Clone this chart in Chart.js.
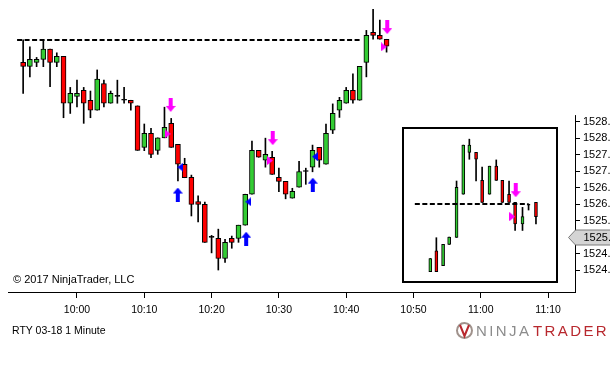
<!DOCTYPE html>
<html>
<head>
<meta charset="utf-8">
<script src="https://cdn.jsdelivr.net/npm/chart.js@4.4.1/dist/chart.umd.min.js"></script>
<style>
  html, body { margin: 0; padding: 0; background: #fff; }
  #wrap { position: relative; width: 610px; height: 367px; overflow: hidden; }
  #chart { position: absolute; left: 0; top: 0; }
  .txt { position: absolute; font-family: "Liberation Sans", Arial, sans-serif; color: #000; white-space: nowrap; }
  #copy { left: 13px; top: 273px; font-size: 11px; line-height: 13px; }
  #instr { left: 12px; top: 324px; font-family: "Liberation Sans Narrow", "Liberation Sans", Arial, sans-serif; font-size: 10.5px; line-height: 12px; }
  .logo { position: absolute; top: 322px; font-family: "Liberation Sans", Arial, sans-serif; font-size: 15px; line-height: 17px; letter-spacing: 2.4px; white-space: nowrap; }
  #ninja { left: 476px; color: #8c8c8c; }
  #trader { left: 533px; color: #b8282e; }
  #icon { position: absolute; left: 455px; top: 321px; }
</style>
</head>
<body>
<div id="wrap">
  <canvas id="chart" width="610" height="367"></canvas>
  <div class="txt" id="copy">© 2017 NinjaTrader, LLC</div>
  <div class="txt" id="instr">RTY 03-18 1 Minute</div>
  <svg id="icon" width="19" height="19" viewBox="0 0 19 19">
    <circle cx="9.5" cy="9.5" r="7.5" fill="none" stroke="#a0928c" stroke-width="2"/>
    <path d="M5 4 L9.5 15 L14 4" fill="none" stroke="#b8282e" stroke-width="2"/>
  </svg>
  <div class="logo" id="ninja">NINJA</div>
  <div class="logo" id="trader">TRADER</div>
</div>
<script>
// main session, 1 minute bars
const times = [
  "9:52", "9:53", "9:54", "9:55", "9:56", "9:57", "9:58", "9:59",
  "10:00", "10:01", "10:02", "10:03", "10:04", "10:05", "10:06", "10:07", "10:08", "10:09",
  "10:10", "10:11", "10:12", "10:13", "10:14", "10:15", "10:16", "10:17", "10:18", "10:19",
  "10:20", "10:21", "10:22", "10:23", "10:24", "10:25", "10:26", "10:27", "10:28", "10:29",
  "10:30", "10:31", "10:32", "10:33", "10:34", "10:35", "10:36", "10:37", "10:38", "10:39",
  "10:40", "10:41", "10:42", "10:43", "10:44", "10:45", "10:46"
];
const opens = [
  1530.30, 1530.18, 1530.30, 1530.39, 1530.70, 1530.30, 1530.48, 1529.06, 1529.27, 1529.45,
  1529.15, 1528.85, 1529.66, 1529.06, 1529.27, 1529.15, 1529.15, 1528.98, 1527.72, 1528.15,
  1527.63, 1528.01, 1528.45, 1527.81, 1527.21, 1526.81, 1526.08, 1525.99, 1524.99, 1524.96,
  1524.35, 1524.96, 1524.96, 1525.36, 1526.30, 1527.63, 1527.33, 1527.42, 1526.81, 1526.69,
  1526.18, 1526.51, 1526.99, 1527.12, 1527.72, 1527.21, 1528.24, 1528.85, 1529.06, 1529.45,
  1529.15, 1530.30, 1531.21, 1531.12, 1531.00
];
const highs = [
  1530.98, 1530.77, 1530.45, 1530.98, 1530.70, 1530.59, 1530.48, 1529.54, 1529.76, 1529.54,
  1529.43, 1530.07, 1529.76, 1529.43, 1529.76, 1529.54, 1529.15, 1528.98, 1528.43, 1528.30,
  1528.01, 1528.94, 1528.60, 1527.81, 1527.39, 1526.88, 1526.25, 1526.06, 1525.05, 1525.24,
  1524.93, 1525.03, 1525.36, 1526.30, 1527.91, 1527.63, 1528.00, 1527.60, 1527.09, 1526.69,
  1526.48, 1527.30, 1527.09, 1527.79, 1527.72, 1528.43, 1529.04, 1529.24, 1529.54, 1529.95,
  1530.18, 1531.27, 1531.91, 1531.58, 1531.00
];
const lows = [
  1529.36, 1529.86, 1530.17, 1530.17, 1529.56, 1530.17, 1528.62, 1528.75, 1528.95, 1528.45,
  1528.62, 1528.85, 1528.95, 1529.06, 1529.06, 1529.06, 1528.85, 1527.63, 1527.62, 1527.41,
  1527.51, 1528.01, 1527.72, 1526.70, 1526.80, 1525.64, 1525.46, 1524.84, 1524.52, 1524.00,
  1524.23, 1524.66, 1524.84, 1525.36, 1526.30, 1527.42, 1527.12, 1526.90, 1526.38, 1526.16,
  1526.18, 1526.51, 1526.60, 1526.98, 1527.12, 1527.21, 1528.14, 1528.63, 1529.06, 1529.06,
  1529.15, 1529.86, 1531.00, 1531.00, 1530.61
];
const closes = [
  1530.18, 1530.39, 1530.39, 1530.70, 1530.30, 1530.48, 1529.06, 1529.36, 1529.36, 1529.06,
  1528.85, 1529.79, 1529.06, 1529.36, 1529.27, 1529.15, 1529.06, 1527.63, 1528.15, 1527.51,
  1528.01, 1528.33, 1527.72, 1527.21, 1526.80, 1525.99, 1525.99, 1524.84, 1524.99, 1524.35,
  1524.84, 1524.84, 1525.36, 1526.30, 1527.63, 1527.42, 1527.51, 1526.90, 1526.69, 1526.30,
  1526.39, 1526.99, 1526.99, 1527.63, 1527.33, 1528.15, 1528.75, 1529.15, 1529.45, 1529.15,
  1530.18, 1531.12, 1531.12, 1531.00, 1530.79
];

// inset panel bars (minutes after 10:00)
const insetMinutes = [52.5, 53.4, 54.4, 55.3, 56.4, 57.4, 58.3, 59.3, 60.2, 61.3, 62.3, 63.2, 64.2, 65.1, 66.2, 67.1, 68.2];
const insetOpens  = [1523.95, 1524.58, 1524.13, 1524.78, 1524.99, 1526.30, 1527.57, 1527.57, 1526.72, 1526.30, 1527.15, 1526.72, 1526.30, 1526.05, 1525.40, 1525.97, 1526.05];
const insetHighs  = [1524.35, 1524.98, 1524.78, 1525.00, 1526.70, 1527.79, 1527.97, 1527.57, 1527.12, 1527.15, 1527.34, 1526.72, 1526.70, 1526.05, 1525.90, 1525.97, 1526.05];
const insetLows   = [1523.95, 1523.95, 1524.13, 1524.78, 1524.99, 1526.30, 1527.36, 1526.70, 1526.05, 1526.30, 1526.72, 1526.05, 1526.05, 1525.20, 1525.20, 1525.82, 1525.40];
const insetCloses = [1524.35, 1523.95, 1524.78, 1525.00, 1526.51, 1527.79, 1527.79, 1527.36, 1526.05, 1527.15, 1526.72, 1526.05, 1526.05, 1525.40, 1525.62, 1525.97, 1525.62];
const insetBox = [48.37, 71.32, 1523.65, 1528.32]; // minutes from/to, price low/high

// dashed levels
const levelStart = [-8.9, 50.2];
const levelEnd   = [42.3, 67.1];
const levelPrice = [1530.98, 1526.00];

// signal markers
const downArrowX = [13.92, 29.08, 46.1, 65.19];
const downArrowY = [1529.01, 1528.00, 1531.37, 1526.42];
const upArrowX = [14.98, 25.14, 35.04];
const upArrowY = [1526.29, 1524.95, 1526.59];
const rightTriX = [13.48, 28.68, 45.6, 64.68];
const rightTriY = [1528.13, 1527.32, 1530.77, 1525.62];
const leftTriX = [15.35, 25.45, 35.36];
const leftTriY = [1527.12, 1526.07, 1527.44];

// axes
const xTickLabels = ["10:00", "10:10", "10:20", "10:30", "10:40", "10:50", "11:00", "11:10"];
const yTicks = [1524.0, 1524.5, 1525.5, 1526.0, 1526.5, 1527.0, 1527.5, 1528.0, 1528.5];
const currentPrice = 1525.0;
const axisTopPrice = 1528.7;

const GREEN = "#33cc33";
const RED = "#ff0000";
const MAGENTA = "#ff00ff";
const BLUE = "#0000ff";
const FONT = "'Liberation Sans', Arial, sans-serif";

function toMin(t) {
  const [h, m] = t.split(":").map(Number);
  return (h - 10) * 60 + m;
}

function candleColor(o, c) {
  if (c > o) return GREEN;
  if (c < o) return RED;
  return "#000";
}

function arrowImage(color, up) {
  const c = document.createElement("canvas");
  c.width = 10; c.height = 14;
  const g = c.getContext("2d");
  g.fillStyle = color;
  if (up) { g.translate(0, 14); g.scale(1, -1); }
  g.fillRect(3, 0, 4, 9);
  g.beginPath();
  g.moveTo(0, 8); g.lineTo(10, 8); g.lineTo(5, 14);
  g.closePath();
  g.fill();
  return c;
}

function triangleImage(color, right) {
  const c = document.createElement("canvas");
  c.width = 6; c.height = 9;
  const g = c.getContext("2d");
  g.fillStyle = color;
  g.beginPath();
  if (right) { g.moveTo(0, 0); g.lineTo(6, 4.5); g.lineTo(0, 9); }
  else { g.moveTo(6, 0); g.lineTo(0, 4.5); g.lineTo(6, 9); }
  g.closePath();
  g.fill();
  return c;
}

const mainX = times.map(toMin);
const mainColors = opens.map((o, i) => candleColor(o, closes[i]));
const insetColors = insetOpens.map((o, i) => candleColor(o, insetCloses[i]));

function points(xs, ys) {
  return xs.map((x, i) => ({ x: x, y: ys[i] }));
}

function markerSet(xs, ys, img) {
  return {
    type: "scatter",
    data: points(xs, ys),
    pointStyle: img,
    order: 0,
  };
}

const barBase = {
  type: "bar",
  grouped: false,
  borderSkipped: false,
  minBarLength: 1,
};

const datasets = [
  markerSet(downArrowX, downArrowY, arrowImage(MAGENTA, false)),
  markerSet(upArrowX, upArrowY, arrowImage(BLUE, true)),
  markerSet(rightTriX, rightTriY, triangleImage(MAGENTA, true)),
  markerSet(leftTriX, leftTriY, triangleImage(BLUE, false)),
];

levelPrice.forEach((p, i) => {
  datasets.push({
    type: "line",
    data: [{ x: levelStart[i], y: p }, { x: levelEnd[i], y: p }],
    borderColor: "#000",
    borderWidth: 2,
    borderDash: [5, 2.5],
    pointRadius: 0,
    fill: false,
    order: 1,
  });
});

datasets.push(
  Object.assign({}, barBase, {
    data: mainX.map((x, i) => ({ x: x, y: [opens[i], closes[i]] })),
    backgroundColor: mainColors,
    borderColor: "#000",
    borderWidth: 1,
    barThickness: 5,
    maxBarThickness: 5,
    order: 2,
  }),
  Object.assign({}, barBase, {
    data: insetMinutes.map((x, i) => ({ x: x, y: [insetOpens[i], insetCloses[i]] })),
    backgroundColor: insetColors,
    borderColor: "#000",
    borderWidth: 1,
    barThickness: 3,
    maxBarThickness: 3,
    order: 2,
  }),
  Object.assign({}, barBase, {
    data: mainX.map((x, i) => ({ x: x, y: [lows[i], highs[i]] })),
    backgroundColor: "#000",
    borderWidth: 0,
    barThickness: 1,
    maxBarThickness: 1,
    order: 3,
  }),
  Object.assign({}, barBase, {
    data: insetMinutes.map((x, i) => ({ x: x, y: [insetLows[i], insetHighs[i]] })),
    backgroundColor: "#000",
    borderWidth: 0,
    barThickness: 1,
    maxBarThickness: 1,
    order: 3,
  })
);

// inset frame, partial price axis line and the current price tag
const overlay = {
  id: "overlay",
  beforeDatasetsDraw(chart) {
    const { ctx, scales: { x, y } } = chart;
    const l = x.getPixelForValue(insetBox[0]);
    const r = x.getPixelForValue(insetBox[1]);
    const b = y.getPixelForValue(insetBox[2]);
    const t = y.getPixelForValue(insetBox[3]);
    ctx.save();
    ctx.strokeStyle = "#000";
    ctx.lineWidth = 2;
    ctx.strokeRect(Math.round(l), Math.round(t), Math.round(r - l), Math.round(b - t));
    ctx.restore();
  },
  afterDraw(chart) {
    const { ctx, chartArea, scales: { y } } = chart;
    const ax = Math.round(chartArea.right) + 0.5;
    ctx.save();
    ctx.strokeStyle = "#000";
    ctx.lineWidth = 1;
    ctx.beginPath();
    ctx.moveTo(ax, y.getPixelForValue(axisTopPrice));
    ctx.lineTo(ax, Math.round(chartArea.bottom) + 0.5);
    ctx.stroke();

    const py = Math.round(y.getPixelForValue(currentPrice)) + 0.5;
    ctx.beginPath();
    ctx.moveTo(ax - 7, py);
    ctx.lineTo(ax, py - 7.5);
    ctx.lineTo(chart.width + 2, py - 7.5);
    ctx.lineTo(chart.width + 2, py + 7.5);
    ctx.lineTo(ax, py + 7.5);
    ctx.closePath();
    ctx.fillStyle = "#d4d4d4";
    ctx.fill();
    ctx.strokeStyle = "#7a7a7a";
    ctx.stroke();
    ctx.fillStyle = "#000";
    ctx.font = "11px " + FONT;
    ctx.textBaseline = "middle";
    ctx.fillText(currentPrice.toFixed(2), ax + 8, py + 0.5);
    ctx.restore();
  },
};

new Chart(document.getElementById("chart"), {
  type: "bar",
  data: { datasets: datasets },
  plugins: [overlay],
  options: {
    responsive: false,
    devicePixelRatio: 1,
    animation: false,
    events: [],
    layout: { autoPadding: false, padding: { left: 8, top: 0, right: 0, bottom: 0 } },
    plugins: { legend: { display: false }, tooltip: { enabled: false } },
    scales: {
      x: {
        type: "linear",
        position: "bottom",
        min: -10.25,
        max: 74.0,
        offset: false,
        afterFit: (s) => { s.height = 75; s.paddingLeft = 0; s.paddingRight = 0; },
        afterBuildTicks: (s) => { s.ticks = xTickLabels.map((t) => ({ value: toMin(t) })); },
        grid: { drawOnChartArea: false, color: "#000", tickLength: 6, offset: false },
        border: { display: true, color: "#000", width: 1 },
        ticks: {
          autoSkip: false,
          maxRotation: 0,
          padding: 6,
          color: "#000",
          font: { family: FONT, size: 10.5 },
          callback: (v, i) => xTickLabels[i],
        },
      },
      y: {
        type: "linear",
        position: "right",
        min: 1523.333,
        max: 1532.192,
        afterFit: (s) => { s.width = 35; s.paddingTop = 0; s.paddingBottom = 0; },
        afterBuildTicks: (s) => { s.ticks = yTicks.map((v) => ({ value: v })); },
        grid: { drawOnChartArea: false, color: "#000", tickLength: 5 },
        border: { display: false },
        ticks: {
          padding: 3,
          color: "#000",
          font: { family: FONT, size: 11 },
          callback: (v) => Number(v).toFixed(2),
        },
      },
    },
  },
});
</script>
</body>
</html>
